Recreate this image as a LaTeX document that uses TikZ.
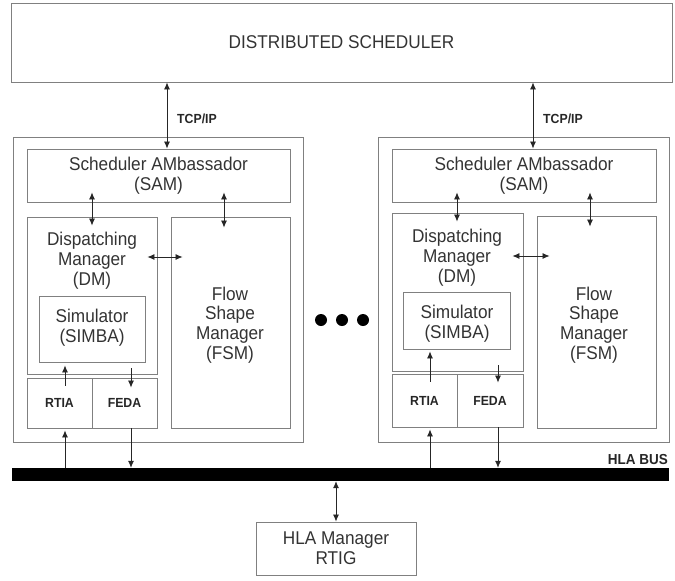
\documentclass[tikz,border=0pt]{standalone}
\usepackage{fontspec}
\setmainfont{Liberation Sans}[FakeStretch=0.93]
\usetikzlibrary{arrows.meta,fit}
\begin{document}
\begin{tikzpicture}[x=1pt,y=-1pt,
  boxst/.style={draw=black!50, line width=0.9pt, inner sep=0pt},
  txt/.style={text=black!80, align=center, inner sep=0pt, font=\fontsize{18.5}{19.8}\selectfont},
  btxt/.style={text=black!85, inner sep=0pt, font=\bfseries\fontsize{13.2}{14}\selectfont},
  tip/.tip={Latex[length=7pt,width=6pt]},
  arr/.style={draw=black!85, line width=0.8pt, tip-tip},
  uarr/.style={draw=black!85, line width=0.8pt, -tip},
  dotst/.style={circle, fill=black, inner sep=0pt, minimum size=12pt}]
\useasboundingbox (0,0) rectangle (675,581);

% distributed scheduler
\node[boxst, fit={(11,3) (672,82)}] (ds) {};
\node[txt] at (ds.center) {DISTRIBUTED SCHEDULER};

% ---------- left unit ----------
\node[boxst, fit={(13,137) (303,442)}] (outerL) {};
\node[boxst, fit={(27,149) (290,202)}] (samL) {};
\node[txt] at (samL.center) {Scheduler AMbassador\\(SAM)};
\node[boxst, fit={(27,217) (157,374)}] (dmL) {};
\node[txt] at (92,261) {Dispatching\\Manager\\(DM)};
\node[boxst, fit={(39,296) (145,362)}] (simL) {};
\node[txt] at (92,328) {Simulator\\(SIMBA)};
\node[boxst, fit={(171,217) (290,428)}] (fsmL) {};
\node[txt] at (230,325) {Flow\\Shape\\Manager\\(FSM)};
\node[boxst, fit={(27,378) (92,428)}] (rtiaL) {};
\node[btxt] at (rtiaL.center) {RTIA};
\node[boxst, fit={(92,378) (157,428)}] (fedaL) {};
\node[btxt] at (fedaL.center) {FEDA};

% ---------- right unit ----------
\node[boxst, fit={(378,137) (669,442)}] (outerR) {};
\node[boxst, fit={(392,149) (656,202)}] (samR) {};
\node[txt] at (samR.center) {Scheduler AMbassador\\(SAM)};
\node[boxst, fit={(392,213) (523,371)}] (dmR) {};
\node[txt] at (457,258) {Dispatching\\Manager\\(DM)};
\node[boxst, fit={(403,292) (510,349)}] (simR) {};
\node[txt] at (457,324) {Simulator\\(SIMBA)};
\node[boxst, fit={(537,216) (656,428)}] (fsmR) {};
\node[txt] at (594,325) {Flow\\Shape\\Manager\\(FSM)};
\node[boxst, fit={(392,374) (457,427)}] (rtiaR) {};
\node[btxt] at (rtiaR.center) {RTIA};
\node[boxst, fit={(457,374) (523,427)}] (fedaR) {};
\node[btxt] at (fedaR.center) {FEDA};

% dots
\node[dotst] (d1) at (321,320) {};
\node[dotst] (d2) at (342,320) {};
\node[dotst] (d3) at (363,320) {};

% bus
\node[fill=black, inner sep=0pt, fit={(12,468) (669,481)}] (bus) {};
\node[btxt, anchor=east, font=\bfseries\fontsize{14.5}{15}\selectfont] (busl) at (668,460) {HLA BUS};

% HLA manager
\node[boxst, fit={(256,522) (416,575)}] (hla) {};
\node[txt] at (hla.center) {HLA Manager\\RTIG};

% TCP/IP labels
\node[btxt, anchor=west] (tcpL) at (177,119) {TCP/IP};
\node[btxt, anchor=west] (tcpR) at (543,119) {TCP/IP};

% column coordinates
\coordinate (xa) at (167,0);  \coordinate (xb) at (533,0);
\coordinate (xc) at (92,0);   \coordinate (xd) at (224,0);
\coordinate (xe) at (457,0);  \coordinate (xf) at (590,0);
\coordinate (xg) at (65,0);   \coordinate (xh) at (131,0);
\coordinate (xi) at (430,0);  \coordinate (xj) at (498,0);
\coordinate (xk) at (336,0);
\coordinate (ya) at (0,257);  \coordinate (yb) at (0,256);

% connectors
\draw[arr] (ds.south -| xa) -- (samL.north -| xa);
\draw[arr] (ds.south -| xb) -- (samR.north -| xb);

\draw[arr] ([yshift=10pt]samL.south -| xc) -- ([yshift=-9pt]dmL.north -| xc);
\draw[arr] ([yshift=10pt]samL.south -| xd) -- ([yshift=-11pt]fsmL.north -| xd);
\draw[arr] ([xshift=-10pt]dmL.east |- ya) -- ([xshift=12pt]fsmL.west |- ya);

\draw[arr] ([yshift=10pt]samR.south -| xe) -- ([yshift=-9pt]dmR.north -| xe);
\draw[arr] ([yshift=10pt]samR.south -| xf) -- ([yshift=-11pt]fsmR.north -| xf);
\draw[arr] ([xshift=-11pt]dmR.east |- yb) -- ([xshift=13pt]fsmR.west |- yb);

\draw[uarr] ([yshift=-8pt]rtiaL.north -| xg) -- ([yshift=-3pt]simL.south -| xg);
\draw[uarr] ([yshift=6pt]dmL.south -| xh) -- ([yshift=-10pt]fedaL.north -| xh);
\draw[uarr] ([yshift=-8pt]rtiaR.north -| xi) -- ([yshift=-2pt]simR.south -| xi);
\draw[uarr] ([yshift=6pt]dmR.south -| xj) -- ([yshift=-9pt]fedaR.north -| xj);

\draw[uarr] (bus.north -| xg) -- ([yshift=-2pt]rtiaL.south -| xg);
\draw[uarr] (fedaL.south -| xh) -- (bus.north -| xh);
\draw[uarr] (bus.north -| xi) -- ([yshift=-2pt]rtiaR.south -| xi);
\draw[uarr] (fedaR.south -| xj) -- (bus.north -| xj);

\draw[arr] (bus.south -| xk) -- (hla.north -| xk);
\end{tikzpicture}
\end{document}
